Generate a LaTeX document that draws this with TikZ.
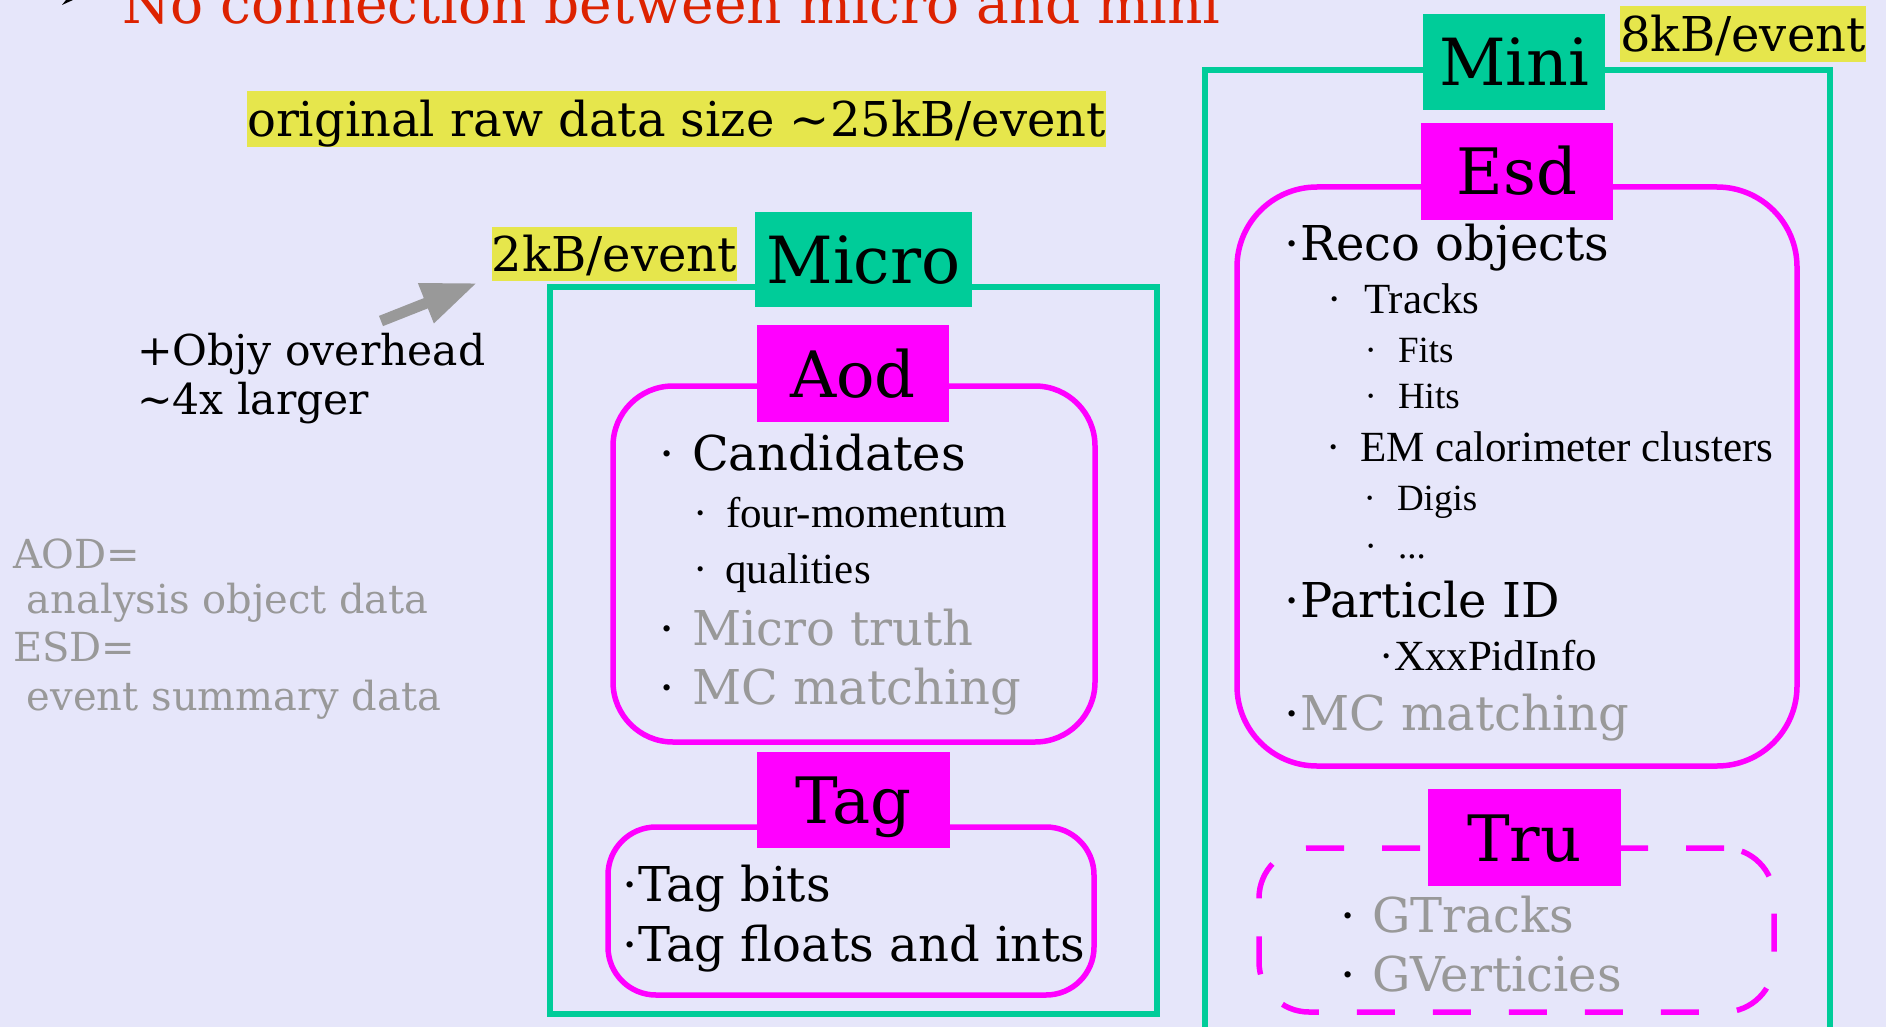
\documentclass[tikz,border=0pt]{standalone}
\usepackage{fontspec}
\setmainfont{DejaVu Serif}
\newfontfamily\tms{Liberation Serif}
\usetikzlibrary{arrows.meta}
\definecolor{bg}{RGB}{230,230,250}
\definecolor{grn}{RGB}{0,204,153}
\definecolor{mag}{RGB}{255,0,255}
\definecolor{yel}{RGB}{230,230,76}
\definecolor{gry}{RGB}{153,153,153}
\definecolor{redt}{RGB}{221,34,0}
\newcommand\fsz[1]{\fontsize{#1pt}{#1pt}\selectfont}
\newcommand\bul[1]{\llap{\textcolor{black}{·}\hspace{#1pt}}}
\begin{document}
\begin{tikzpicture}[x=1pt,y=-1pt,
  txt/.style={anchor=base west, inner sep=0pt, outer sep=0pt},
  frame/.style={draw=grn, line width=5.5pt, inner sep=0pt},
  rbox/.style={draw=mag, line width=5.5pt, inner sep=0pt, rounded corners=#1},
  tbox/.style={fill=mag, inner sep=0pt, text height=47pt, text depth=0pt, font=\fsz{64}},
  gbox/.style={fill=grn, inner sep=0pt, text height=47pt, text depth=0pt, font=\fsz{65}},
  ybox/.style={fill=yel, inner sep=0pt, text height=35pt, text depth=0pt, font=\fsz{48}},
  big/.style={txt, font=\fsz{48}},
  mid/.style={txt, font=\tms\fsz{43}},
  sml/.style={txt, font=\tms\fsz{37}},
  note/.style={txt, font=\fsz{40}, text=gry}]
\useasboundingbox (0,0) rectangle (1886,1027);
\fill[bg] (0,0) rectangle (1886,1027);

% title (cut off at top)
\fill[black] (62,5) -- (66,0) -- (73,0) -- cycle;
\node[txt, font=\fsz{55}, text=redt] (title) at (122,24) {No connection between micro and mini};

% yellow size labels
\node[ybox, minimum width=855pt, minimum height=56pt] (raw) at (676.5,119) {original raw data size \textasciitilde25kB/event};
\node[ybox, minimum width=245pt, minimum height=54pt] (kb2) at (614.5,254) {2kB/event};
\node[ybox, minimum width=246pt, minimum height=56pt] (kb8) at (1743,34) {8kB/event};

% overhead note and arrow
\node[txt, font=\fsz{42.5}] (objy1) at (137,365) {+Objy overhead};
\node[txt, font=\fsz{42.5}] (objy2) at (137,414) {\textasciitilde4x larger};
\coordinate (arrtail) at (381,321);
\coordinate (arrtip) at (477,283);
\draw[gry, line width=11pt, -{Triangle[length=55pt,width=40pt]}] (arrtail) -- (arrtip);

% glossary
\node[note] (aod1) at (13,568) {AOD=};
\node[note] (aod2) at (27,613) {analysis object data};
\node[note] (esd1) at (13,661) {ESD=};
\node[note] (esd2) at (27,710) {event summary data};

% frames
\node[frame, minimum width=607pt, minimum height=727pt] (microframe) at (853.5,650.5) {};
\node[frame, minimum width=625pt, minimum height=980pt] (miniframe) at (1517.5,560) {};

% rounded boxes
\node[rbox=60pt, minimum width=482pt, minimum height=356pt] (aodbox) at (854,564) {};
\node[rbox=48pt, minimum width=486pt, minimum height=168pt] (tagbox) at (851,911) {};
\node[rbox=80pt, minimum width=560pt, minimum height=579pt] (esdbox) at (1517,476.5) {};
\node[rbox=50pt, dash pattern=on 38pt off 38pt, minimum width=515pt, minimum height=164pt] (trubox) at (1516.5,930) {};

% title boxes
\node[gbox, minimum width=217pt, minimum height=95pt] (micro) at (863.5,259.5) {Micro};
\node[gbox, minimum width=182pt, minimum height=96pt] (mini) at (1514,62) {Mini};
\node[tbox, minimum width=192pt, minimum height=97pt] (aod) at (853,373.5) {Aod};
\node[tbox, minimum width=192pt, minimum height=97pt] (esd) at (1517,171.5) {Esd};
\node[tbox, minimum width=193pt, minimum height=96pt] (tag) at (853.5,800) {Tag};
\node[tbox, minimum width=193pt, minimum height=97pt] (tru) at (1524.5,837.5) {Tru};

% Aod content
\node[big] (cand) at (692,470) {\bul{17}Candidates};
\node[mid] (fourm) at (726,527) {\bul{18}four-momentum};
\node[mid] (qual) at (725,583) {\bul{17}qualities};
\node[big, text=gry] (mtruth) at (692,645) {\bul{17}Micro truth};
\node[big, text=gry] (mcm1) at (692,704) {\bul{17}MC matching};

% Tag content
\node[big] (tbits) at (638,901) {\bul{0}Tag bits};
\node[big] (tfloats) at (638,961) {\bul{0}Tag floats and ints};

% Esd content
\node[big] (reco) at (1300,260) {\bul{0}Reco objects};
\node[mid] (tracks) at (1364,313) {\bul{22}Tracks};
\node[sml] (fits) at (1398,362) {\bul{21}Fits};
\node[sml] (hits) at (1398,408) {\bul{21}Hits};
\node[mid] (emc) at (1360,461) {\bul{19}EM calorimeter clusters};
\node[sml] (digis) at (1397,510) {\bul{21}Digis};
\node[sml] (dots) at (1398,558) {\bul{21}...};
\node[big] (pid) at (1300,617) {\bul{0}Particle ID};
\node[mid] (xxx) at (1394,670) {\bul{0}XxxPidInfo};
\node[big, text=gry] (mcm2) at (1300,730) {\bul{0}MC matching};

% Tru content
\node[big, text=gry] (gtr) at (1372,932) {\bul{16}GTracks};
\node[big, text=gry] (gvx) at (1372,991) {\bul{16}GVerticies};
\end{tikzpicture}
\end{document}
